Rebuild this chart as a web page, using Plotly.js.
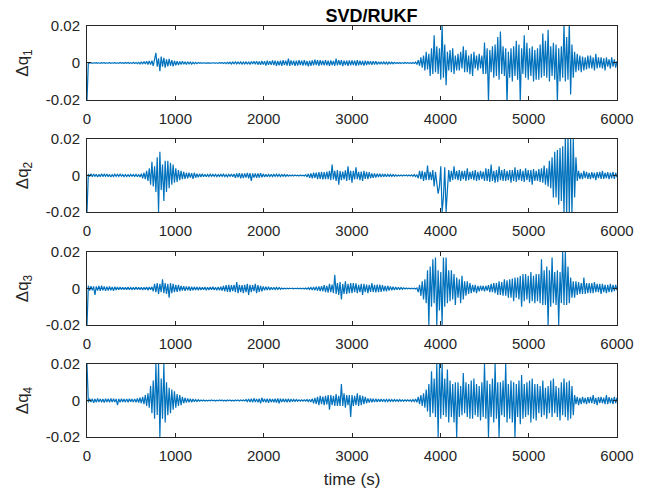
<!DOCTYPE html>
<html>
<head>
<meta charset="utf-8">
<script src="https://cdn.plot.ly/plotly-3.0.1.min.js"></script>
<style>html,body{margin:0;padding:0;background:#fff;}#chart{width:656px;height:492px;}</style>
</head>
<body>
<div id="chart"></div>
<script>
// sampling step of the read-off series (seconds)
var dt = 15;
// values in units of 1e-3, one every dt seconds from 0 to 6000 s
var dq1_milli = [
 -20, 0.2, -0.1, 0.2, -0.2, 0.1, -0.1, 0.2, -0.2, 0.1,
 -0.2, 0.2, -0.1, 0.2, -0.2, 0.1, -0.1, 0.2, -0.2, 0.1,
 -0.1, 0.2, -0.2, 0.1, -0.2, 0.3, -0.2, 0.2, -0.3, 0.3,
 -0.2, 0.3, -0.3, 0.2, -0.3, 0.4, -0.3, 0.3, -0.4, 0.3,
 -0.5, 0.7, -0.6, 0.8, -0.5, 1, -0.8, 1.1, -0.9, 1.2,
 -1.5, 1.3, 5.5, -2, 2.5, -4.5, 3.5, -2, 2.8, -2.5,
 2, -1.8, 2.2, -1.5, 1.5, -1.8, 1.2, -1.2, 1, -1.1,
 0.8, -0.8, 0.9, -0.7, 0.6, -0.8, 0.7, -0.5, 0.5, -0.6,
 0.4, -0.5, 0.3, -0.4, 0.3, -0.2, 0.2, -0.2, 0.1, -0.1,
 0.1, -0.1, 0.1, -0.1, 0.1, -0.1, 0.1, -0.2, 0.1, -0.2,
 0.2, -0.2, 0.3, -0.3, 0.3, -0.4, 0.4, -0.3, 0.4, -0.5,
 0.5, -0.4, 0.6, -0.5, 0.5, -0.4, 0.6, -0.6, 0.5, -0.5,
 0.6, -0.7, 0.7, -0.8, 0.8, -0.6, 0.9, -0.7, 1, -0.9,
 0.8, -1, 1.1, -0.9, 1, -1.4, 1.2, -1, 0.9, -1,
 1.4, -1.2, 1.3, -1.5, 1.1, -1.3, 1.2, -1.5, 1.6, -1.1,
 1.3, -1.4, 2.4, -1.6, 1.4, -1.2, 1.3, -1.6, 1.2, -1.4,
 1.5, -1.1, 1.3, -1.4, 1.5, -1.3, 1.1, -1.8, 1.2, -1.5,
 1.4, -1.3, 1.8, -1.2, 1.5, -1.6, 1.5, -1.1, 1.3, -1.3,
 1.5, -1.3, 1.2, -1.6, 1.4, -1.2, 1.1, -1.5, 2.4, -1.3,
 1.5, -1.2, 1.6, -1.7, 1.3, -1.1, 1.2, -1.5, 1.4, -1.3,
 1.4, -1.2, 1.3, -1.5, 1.6, -1.3, 1.2, -1.1, 1.1, -1.4,
 1.2, -1.1, 1.1, -0.9, 0.9, -1, 1, -0.8, 0.9, -0.8,
 0.7, -0.6, 0.7, -0.6, 0.6, -0.5, 0.5, -0.6, 0.5, -0.4,
 0.4, -0.4, 0.4, -0.3, 0.3, -0.3, 0.3, -0.3, 0.2, -0.3,
 0.3, -0.2, 0.2, -0.2, 0.2, -0.3, 0.3, -0.3, 0.5, -0.8,
 1.5, -1.5, 3, -2.5, 4, -4, 6, -3.5, 5, -7,
 8, -6, 15, -5, 9, -6, 8, -9, 21, -8,
 10, -12, 6, -4, 7, -5, 8, -6, 4, -4,
 5, -4, 6, -3, 9, -5, 7, -5, 4, -6,
 5, -7, 6, -3, 4, -4, 5, -3, 4, -6,
 11, -6, 8, -21, 7, -5, 9, -8, 10, -7,
 14, -9, 17, -6, 9, -7, 8, -22, 6, -8,
 8, -10, 9, -7, 12, -9, 10, -21, 8, -6,
 15, -8, 11, -9, 8, -7, 9, -10, 7, -9,
 8, -9, 10, -8, 16, -7, 12, -8, 18, -10,
 9, -7, 11, -9, 10, -21, 8, -10, 9, -8,
 21, -10, 14, -9, 22, -17, 10, -8, 6, -5,
 5, -4, 4, -5, 3.5, -4, 3, -3.5, 4, -3,
 4, -3, 3, -4, 5, -3, 3, -2.5, 3, -3,
 2.5, -4, 3, -2, 2, -3, 3, -2, 2, -2.5,
 1
];
var dq2_milli = [
 -20, 0.8, -0.6, 0.9, -0.7, 0.8, -0.5, 0.7, -0.8, 0.6,
 -0.7, 0.9, -0.6, 0.7, -0.5, 0.8, -0.7, 0.6, -0.8, 0.6,
 -0.6, 0.7, -0.5, 0.6, -0.5, 0.7, -0.4, 0.5, -0.6, 0.5,
 -0.5, 0.4, -0.5, 0.6, -0.4, 0.5, -0.5, 0.6, -0.7, 0.6,
 -0.8, 1, -1.5, 1.5, -2, 2.5, -3, 4, -5, 7.5,
 -6, 5, -9, 10, -20, 13, -8, 6, -14, 8,
 -9, 8, -7, 7, -5, 6, -4, 4, -3.5, 3,
 -2.5, 2.5, -2, 2, -1.8, 1.5, -1.5, 1.5, -1.2, 1.3,
 -1.8, 1.5, -1.2, 1, -1, 0.9, -0.8, 0.9, -0.7, 0.7,
 -0.7, 0.6, -0.6, 0.7, -0.5, 0.6, -0.5, 0.6, -0.6, 0.5,
 -0.5, 0.6, -0.5, 0.7, -0.6, 0.5, -0.7, 0.6, -0.5, 0.8,
 -0.7, 0.8, -1.2, 1.1, -1, 1.3, -1.5, 1.2, -1.4, 1.2,
 -1.2, 1.4, -1.5, 1.3, -3, 1.2, -1.1, 1.2, -1.3, 1.1,
 -1.1, 1.3, -1.0, 0.9, -0.8, 0.7, -0.7, 0.6, -0.6, 0.7,
 -0.6, 0.6, -0.5, 0.7, -0.5, 0.6, -0.6, 0.5, -0.4, 0.5,
 -0.5, 0.4, -0.4, 0.3, -0.3, 0.3, -0.3, 0.3, -0.2, 0.2,
 -0.3, 0.3, -0.2, 0.2, -0.3, 0.4, -0.8, 0.9, -1.2, 1.1,
 -1.5, 1.5, -1.3, 1.6, -2, 1.8, -1.8, 2, -2.2, 1.9,
 -2, 2.2, -2, 2.5, -2.5, 6, -2.2, 2.5, -3, 3,
 -5, 2.5, -2.5, 2.2, -2.2, 2.8, -3, 5, -2.5, 2.5,
 -4, 2.5, -2.2, 4.5, -2, 2, -2.5, 2.2, -3, 2.5,
 -1.8, 2, -2, 1.8, -1.5, 1.2, -1.3, 1.2, -1.1, 1,
 -0.8, 1, -0.9, 0.9, -0.7, 0.8, -0.7, 0.6, -0.5, 0.6,
 -0.5, 0.5, -0.4, 0.4, -0.4, 0.3, -0.3, 0.3, -0.3, 0.3,
 -0.2, 0.3, -0.3, 0.3, -0.3, 0.4, -0.4, 0.5, -0.6, 0.5,
 -1.5, 2.5, -2, 2.5, -3, 2, -2.5, 5.5, -2.5, 2,
 -2.5, 3, -6, 2, -4, -10, -6, 5, -20, -12,
 4.5, -20, -8, 3, -3.5, 2.5, -2.5, 5, -2, 2.5,
 -2.5, 3, -3, 2.5, -2, 2.5, -3, 4, -2.5, 2,
 -2, 2.5, -2.5, 3, -3, 2, -2.5, 2.5, -2, 2.2,
 -3, 4, -3, 3.5, -3.5, 6, -3, 2.5, -4, 3,
 -3.5, 5, -2.5, 3, -3, 3.5, -3, 2.5, -2.5, 3,
 -4, 3, -3, 4.5, -3.5, 3, -2.5, 3.5, -3, 2.5,
 -3.5, 4, -2.5, 3, -3.5, 3, -5, 3.5, -3, 2.5,
 -3, 3.5, -3.5, 4, -4, 5.5, -5, 4, -6, 8,
 -7, 10, -12, 13, -12, 14, -16, 15, -14, 16,
 -21, 21, -21, 22, -21, 21, -21, 20, -12, 10,
 -3, 2.5, -2, 1.5, -2, 2.5, -1.5, 2, -1.8, 1.5,
 -2, 1.8, -1.5, 1.5, -2.5, 1.8, -1.5, 2, -1.8, 2.5,
 -1.8, 1.5, -1.5, 1.8, -2, 1.5, -1.5, 2, -1.8, 1.5,
 -1
];
var dq3_milli = [
 -20, 1.5, -1.2, 1.3, -1, 1.2, -3.5, 1.2, -1.1, 1.4,
 -1.3, 1.5, -1, 1.2, -1.3, 1, -1.1, 1.2, -1, 0.9,
 -1.2, 1, -0.8, 0.8, -0.7, 0.8, -0.6, 0.7, -0.7, 0.7,
 -0.6, 0.8, -0.7, 0.6, -0.6, 0.7, -0.7, 0.8, -0.6, 0.7,
 -0.6, 0.7, -0.8, 0.7, -0.6, 0.8, -0.9, 0.8, -0.7, 0.9,
 -1.5, 2.5, -2, 3, -3, 2.5, -2, 5, -2.5, 3,
 -3, 2.5, -5, 3, -2.5, 2.5, -2, 2, -1.8, 2,
 -1.5, 1.5, -1.2, 1.3, -1.3, 1.2, -1, 1.1, -1.2, 1,
 -1, 0.9, -0.8, 0.8, -0.9, 0.8, -0.8, 0.7, -0.7, 0.8,
 -0.9, 0.7, -0.8, 0.8, -0.7, 0.9, -0.8, 0.7, -0.9, 0.8,
 -1, 1, -1.2, 1.5, -1.5, 1.8, -1.8, 2, -2, 1.8,
 -1.5, 2, -2, 3.5, -2.5, 2, -2, 1.8, -2.5, 2,
 -2, 2.5, -3.5, 2, -2, 1.8, -1.5, 2.5, -2.5, 1.8,
 -1.8, 1.5, -1.5, 1.2, -1.0, 1, -0.8, 0.9, -0.8, 0.7,
 -0.7, 0.7, -0.6, 0.6, -0.5, 0.5, -0.4, 0.3, -0.3, 0.2,
 -0.2, 0.2, -0.2, 0.2, -0.1, 0.2, -0.2, 0.1, -0.1, 0.2,
 -0.2, 0.2, -0.2, 0.2, -0.3, 0.3, -0.4, 0.4, -0.5, 0.6,
 -0.8, 0.8, -0.9, 1, -1.2, 1.2, -1.4, 1.3, -1.5, 1.8,
 -2, 1.5, -2.2, 2.5, -2, 2.2, -2.5, 7.5, -3, 3,
 -3.5, 3.5, -6, 2.5, -3, 4, -3, 2.5, -2.5, 3,
 -2.5, 3, -2, 2.8, -2.5, 2, -2, 2.5, -3.5, 2.5,
 -2, 2.2, -2.5, 2, -1.8, 3, -2, 2, -2.2, 2.2,
 -2, 2.2, -1.8, 1.8, -1.5, 1.5, -1.5, 1.5, -1.2, 1.2,
 -1, 1, -0.8, 0.8, -0.7, 0.7, -0.5, 0.5, -0.4, 0.4,
 -0.3, 0.3, -0.2, 0.2, -0.2, 0.2, -0.2, 0.2, -0.3, 0.3,
 -2, 2, -4, 4, -6, 5, -8, 10, -20, 12,
 -10, 16, -8, 17, -20, 10, -12, 9, -20, 17,
 -10, 17, -8, 10, -7, 10, -6, 8, -9, 6,
 -5, 5, -8, 7, -6, 4, -4, 4, -3, 3,
 -2.5, 2, -2, 2, -2.5, 1.5, -1.5, 1.5, -1.2, 1.5,
 -1.5, 1.5, -1.2, 1.8, -2, 2.5, -2, 3, -2.5, 3,
 -3.5, 4, -3.5, 3.5, -4, 5, -4, 4.5, -5, 5,
 -5, 5.5, -7, 6, -5, 6, -6, 7, -10, 8,
 -7, 8, -6, 7, -8, 9, -7, 7, -8, 8,
 -7, 8, -8, 16, -9, 10, -9, 12, -20, 10,
 -10, 17, -8, 9, -9, 10, -20, 9, -8, 20,
 -9, 20, -9, 12, -8, 6, -5, 4, -5, 4,
 -3.5, 3.5, -3, 3, -3, 6, -3, 3, -2.5, 3,
 -2.5, 3, -2.5, 3.5, -2, 2.5, -2, 2.5, -3, 2.5,
 -2, 2, -2.5, 2, -2, 2.5, -2, 2, -1.5, 2,
 -1
];
var dq4_milli = [
 20, -1, 1, -0.8, 0.9, -1.2, 0.8, -1, 1.1, -0.9,
 0.9, -1, 0.8, -1.1, 1, -0.8, 0.9, -1, 1.1, -0.9,
 1, -0.9, 0.9, -2.5, 0.9, -1, 1, -0.8, 0.8, -0.9,
 0.9, -1, 1, -0.7, 0.8, -0.9, 0.9, -1, 1.2, -1.1,
 1.5, -1.5, 2, -2, 3, -3, 4, -4, 8, -7,
 11, -10, 20, -8, 20, -20, 12, -10, 20, -12,
 10, -8, 7, -7, 6, -5, 5, -4, 3.5, -3,
 3, -2.5, 2, -1.5, 1.5, -1.2, 1.2, -1, 1, -1,
 0.8, -0.7, 0.5, -0.5, 0.4, -0.4, 0.3, -0.3, 0.3, -0.3,
 0.2, -0.3, 0.2, -0.2, 0.3, -0.2, 0.2, -0.3, 0.2, -0.2,
 0.3, -0.2, 0.3, -0.3, 0.2, -0.3, 0.3, -0.2, 0.3, -0.3,
 0.2, -0.3, 0.3, -0.2, 0.3, -0.3, 0.3, -0.2, 0.3, -0.3,
 0.5, -0.6, 0.8, -0.8, 1, -1, 1.2, -0.9, 0.9, -1,
 1, -1.5, 1.5, -0.8, 0.9, -1, 1, -1.2, 1, -0.9,
 0.8, -1, 1, -1.2, 1.2, -1.5, 1, -0.9, 0.9, -0.8,
 0.8, -1, 1, -0.9, 0.8, -0.6, 0.6, -0.5, 0.5, -0.4,
 0.4, -0.3, 0.4, -0.3, 0.4, -0.3, 0.5, -0.6, 0.6, -0.8,
 1, -1.5, 1.5, -1.8, 2, -2.5, 2.5, -2, 2.2, -2.5,
 2.5, -2.2, 3, -5, 3, -2.5, 2.5, -3, 3.5, -3,
 2.5, -3, 9, -3, 4, -4, 3, -2.5, 3, -9,
 3, -3, 2.5, -2.5, 4, -3, 3, -2.5, 2.5, -2,
 2, -1.5, 1.2, -1.2, 1.2, -1, 1, -0.9, 0.9, -0.8,
 0.8, -0.7, 0.8, -0.7, 0.7, -0.6, 0.6, -0.6, 0.6, -0.5,
 0.5, -0.5, 0.5, -0.4, 0.4, -0.5, 0.5, -0.4, 0.4, -0.4,
 0.4, -0.3, 0.4, -0.3, 0.4, -0.5, 0.5, -0.6, 0.8, -1,
 2, -2, 3, -3, 4, -4, 6, -6, 9, -9,
 16, -7, 12, -9, 20, -20, 20, -10, 20, -8,
 12, -9, 17, -12, 11, -9, 9, -12, 10, -20,
 10, -9, 8, -8, 15, -7, 10, -9, 9, -10,
 11, -10, 12, -8, 9, -9, 8, -11, 10, -9,
 20, -10, 11, -20, 9, -9, 12, -12, 20, -10,
 10, -20, 10, -8, 11, -9, 20, -12, 9, -10,
 11, -12, 10, -20, 9, -9, 11, -13, 14, -10,
 9, -9, 10, -8, 11, -12, 12, -10, 9, -11,
 9, -7, 8, -9, 11, -8, 7, -10, 8, -7,
 11, -9, 12, -7, 8, -9, 7, -11, 10, -8,
 12, -9, 10, -11, 11, -10, 8, -8, 3, -2,
 2, -2.5, 1.5, -2, 2, -1.5, 1.5, -2, 1.8, -1.5,
 2, -1.5, 3, -1.8, 1.5, -2.5, 1.8, -1.5, 2, -1.5,
 1.5, -2, 3, -2, 1.8, -1.5, 1.5, -2, 2, -1.5,
 1.5
];
var series = [dq1_milli, dq2_milli, dq3_milli, dq4_milli];
var yLabels = ['\u0394q<sub>1</sub>', '\u0394q<sub>2</sub>', '\u0394q<sub>3</sub>', '\u0394q<sub>4</sub>'];
var xTicks = [0, 1000, 2000, 3000, 4000, 5000, 6000];
var yTicks = [-0.02, 0, 0.02];
var yTickText = ['-0.02', '0', '0.02'];
var titleText = '<b>SVD/RUKF</b>';
var xLabel = 'time (s)';

var FONT = 'Liberation Sans, Arial, Helvetica, sans-serif';
var AX = '#262626';
var domains = [[0.8200, 1.0], [0.5474, 0.7251], [0.2725, 0.4501], [0.0, 0.1776]];

var traces = [];
var layout = {
  width: 656, height: 492,
  margin: {l: 87, r: 39, t: 26, b: 55},
  paper_bgcolor: '#ffffff', plot_bgcolor: '#ffffff',
  showlegend: false,
  font: {family: FONT, color: AX, size: 15},
  title: {text: titleText, x: 0.5366, xref: 'paper', xanchor: 'center',
          y: 0.969, yref: 'container', yanchor: 'middle',
          font: {family: FONT, size: 18, color: '#000000'}}
};

series.forEach(function (s, k) {
  var t = s.map(function (_, i) { return i * dt; });
  var y = s.map(function (v) { return v * 1e-3; });
  var n = k + 1;
  var sfx = (n === 1 ? '' : String(n));
  traces.push({
    type: 'scatter', mode: 'lines', x: t, y: y,
    xaxis: 'x' + sfx, yaxis: 'y' + sfx,
    line: {color: '#0072BD', width: 1.2}, hoverinfo: 'skip'
  });
  var xa = {
    domain: [0, 1], anchor: 'y' + sfx,
    range: [0, 6000], tickvals: xTicks, ticktext: xTicks.map(String),
    ticks: 'inside', ticklen: 4, tickcolor: AX, tickwidth: 1,
    showline: true, linecolor: AX, linewidth: 1, mirror: 'ticks',
    showgrid: false, zeroline: false, ticklabelstandoff: 5,
    tickfont: {family: FONT, size: 15, color: AX}
  };
  if (n === 4) {
    xa.title = {text: xLabel, font: {family: FONT, size: 17, color: AX}, standoff: 10};
  }
  var ya = {
    domain: domains[k], anchor: 'x' + sfx,
    range: [-0.02, 0.02], tickvals: yTicks, ticktext: yTickText,
    ticks: 'inside', ticklen: 4, tickcolor: AX, tickwidth: 1,
    showline: true, linecolor: AX, linewidth: 1, mirror: 'ticks',
    showgrid: false, zeroline: false, ticklabelstandoff: 3,
    tickfont: {family: FONT, size: 15, color: AX},
    title: {text: yLabels[k], font: {family: FONT, size: 17, color: AX}, standoff: 12}
  };
  layout['xaxis' + sfx] = xa;
  layout['yaxis' + sfx] = ya;
});

Plotly.newPlot('chart', traces, layout, {displayModeBar: false, staticPlot: true});
</script>
</body>
</html>
